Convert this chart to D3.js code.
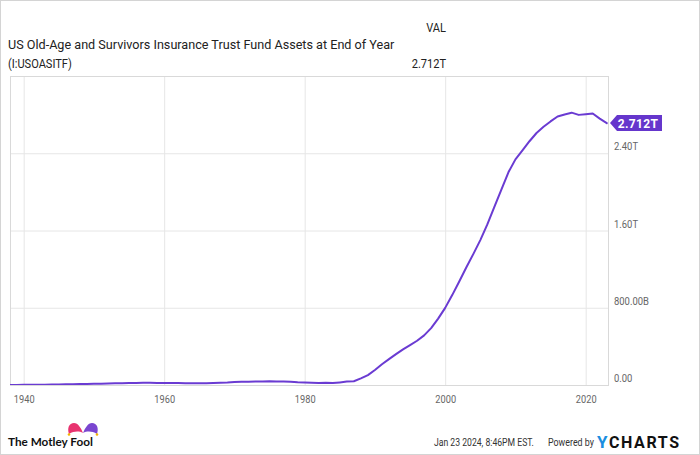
<!DOCTYPE html>
<html>
<head>
<meta charset="utf-8">
<script src="https://cdn.jsdelivr.net/npm/d3@7"></script>
<style>
  html, body { margin: 0; padding: 0; background: #fff; }
  svg { display: block; }
  text { font-family: Roboto, "Noto Sans", sans-serif; }
</style>
</head>
<body>
<svg id="chart" width="700" height="455"></svg>
<script>
// ---- Data (end-of-year assets) ----
const years = [
  1937,1938,1939,1940,1941,1942,1943,1944,1945,1946,1947,1948,1949,
  1950,1951,1952,1953,1954,1955,1956,1957,1958,1959,
  1960,1961,1962,1963,1964,1965,1966,1967,1968,1969,
  1970,1971,1972,1973,1974,1975,1976,1977,1978,1979,
  1980,1981,1982,1983,1984,1985,1986,1987,1988,1989,
  1990,1991,1992,1993,1994,1995,1996,1997,1998,1999,
  2000,2001,2002,2003,2004,2005,2006,2007,2008,2009,
  2010,2011,2012,2013,2014,2015,2016,2017,2018,2019,
  2020,2021,2022
];
// billions of dollars
const assetsBillions = [
  0.8,1.1,1.7,2.0,2.8,3.7,4.8,6.0,7.1,8.2,9.4,10.7,11.8,
  13.7,15.5,17.4,18.7,20.6,21.7,22.5,22.4,21.9,20.1,
  20.3,19.7,18.3,18.5,19.1,18.2,20.6,24.2,25.7,30.1,
  32.5,33.8,35.3,36.5,37.8,37.0,35.4,32.5,27.5,24.7,
  22.8,21.5,22.1,19.7,27.1,35.8,39.1,68.8,102.9,155.1,
  214.2,267.8,319.2,369.3,413.5,458.5,514.0,589.1,687.6,798.8,
  931.0,1071.5,1217.5,1355.3,1500.6,1663.0,1844.3,2023.7,2202.7,2336.8,
  2429.0,2524.5,2609.7,2674.1,2729.5,2780.3,2801.4,2820.3,2797.4,2804.1,
  2811.0,2758.0,2712.0
];
const yTickValues = [0, 800e9, 1600e9, 2400e9];
const yTickLabels = ["0.00", "800.00B", "1.60T", "2.40T"];
const xTickYears = [1940, 1960, 1980, 2000, 2020];
const xTickLabels = ["1940", "1960", "1980", "2000", "2020"];
const titleLine1 = "US Old-Age and Survivors Insurance Trust Fund Assets at End of Year";
const titleLine2 = "(I:USOASITF)";
const columnHeader = "VAL";
const lastValueLabel = "2.712T";
const footerDate = "Jan 23 2024, 8:46PM EST.";
const footerPowered = "Powered by";

const data = years.map((yr, i) => ({ date: new Date(yr, 11, 31), value: assetsBillions[i] * 1e9 }));

// ---- Layout ----
const svg = d3.select("#chart");
const W = 700, H = 455;
const plot = { left: 10, right: 608, top: 76, bottom: 385 };
const lineColor = "#6a3bd2";

// horizontally condense a text via transform so its box stays true
// opt: {scale: s} or {width: px}
function condense(sel, opt) {
  sel.each(function () {
    const t = d3.select(this);
    const w = this.getComputedTextLength();
    const s = opt.width ? opt.width / w : opt.scale;
    const x0 = +t.attr("x") || 0, y0 = +t.attr("y") || 0;
    t.attr("x", 0).attr("y", 0)
     .attr("transform", `translate(${x0},${y0}) scale(${s},1)`);
  });
}

// frame
svg.append("rect").attr("x", 0.5).attr("y", 0.5).attr("width", W - 1).attr("height", H - 1)
  .attr("fill", "#fff").attr("stroke", "#d4d4d4");

// scales
const x = d3.scaleTime()
  .domain([new Date(1940, 0, 1), new Date(2020, 0, 1)])
  .range([23.7, 585.7]);
const y = d3.scaleLinear().domain([0, 3.2e12]).range([plot.bottom, plot.top]);

// gridlines
const gx = svg.append("g").attr("transform", `translate(0,${plot.bottom})`)
  .call(d3.axisBottom(x).tickValues(xTickYears.map(v => new Date(v, 0, 1)))
    .tickSize(-(plot.bottom - plot.top)).tickFormat(""));
gx.select(".domain").remove();
gx.selectAll("line").attr("stroke", "#e6e6e6");

const gy = svg.append("g").attr("transform", `translate(${plot.left},0)`)
  .call(d3.axisRight(y).tickValues(yTickValues).tickSize(plot.right - plot.left).tickFormat(""));
gy.select(".domain").remove();
gy.selectAll("line").attr("stroke", "#e6e6e6");

// plot border
svg.append("rect").attr("x", plot.left + 0.5).attr("y", plot.top + 0.5)
  .attr("width", plot.right - plot.left).attr("height", plot.bottom - plot.top)
  .attr("fill", "none").attr("stroke", "#d9d9d9");

// x tick labels
const xl = svg.append("g").attr("transform", `translate(0,${plot.bottom})`)
  .call(d3.axisBottom(x).tickValues(xTickYears.map(v => new Date(v, 0, 1)))
    .tickSize(0).tickPadding(0).tickFormat((d, i) => xTickLabels[i]));
xl.select(".domain").remove();
xl.selectAll("text").attr("y", 18).attr("dy", null)
  .attr("fill", "#666").style("font-size", "11px").style("font-family", "Roboto, sans-serif");
condense(xl.selectAll("text"), { scale: 0.84 });

// y tick labels (right side, above gridline)
const yl = svg.append("g").attr("transform", `translate(${plot.right + 6},0)`)
  .call(d3.axisRight(y).tickValues(yTickValues).tickSize(0).tickPadding(0)
    .tickFormat((d, i) => yTickLabels[i]));
yl.select(".domain").remove();
yl.selectAll("text").attr("dy", null).attr("y", -3.5).attr("x", 0)
  .attr("fill", "#666").style("font-size", "11px").style("font-family", "Roboto, sans-serif")
  .attr("text-anchor", "start");
condense(yl.selectAll("text"), { scale: 0.86 });

// line
svg.append("clipPath").attr("id", "clip").append("rect")
  .attr("x", plot.left).attr("y", plot.top - 10)
  .attr("width", plot.right - plot.left).attr("height", plot.bottom - plot.top + 10);
svg.append("path").datum(data)
  .attr("clip-path", "url(#clip)")
  .attr("fill", "none").attr("stroke", lineColor).attr("stroke-width", 2)
  .attr("stroke-linejoin", "round").attr("stroke-linecap", "round")
  .attr("d", d3.line().x(d => x(d.date)).y(d => y(d.value)));

// last value tag
const last = data[data.length - 1];
const ty = y(last.value);
const tx = plot.right + 2;
svg.append("path")
  .attr("d", `M${tx},${ty} L${tx + 7},${ty - 8} L${tx + 52},${ty - 8} L${tx + 52},${ty + 8} L${tx + 7},${ty + 8} Z`)
  .attr("fill", "#6536cc");
svg.append("text").attr("x", tx + 28).attr("y", ty + 4.5).attr("text-anchor", "middle")
  .attr("fill", "#fff").style("font-size", "12px").style("font-weight", "bold")
  .style("letter-spacing", "0.3px").text(lastValueLabel);

// header
const hVal = svg.append("text").attr("x", 446).attr("y", 32).attr("text-anchor", "end")
  .attr("fill", "#222").style("font-size", "13px").text(columnHeader);
condense(hVal, { scale: 0.85 });
const t1 = svg.append("text").attr("x", 8).attr("y", 49)
  .attr("fill", "#222").style("font-size", "13px").text(titleLine1);
condense(t1, { width: 387 });
const t2 = svg.append("text").attr("x", 8).attr("y", 68)
  .attr("fill", "#222").style("font-size", "13px").text(titleLine2);
condense(t2, { scale: 0.85 });
const t3 = svg.append("text").attr("x", 446).attr("y", 68).attr("text-anchor", "end")
  .attr("fill", "#222").style("font-size", "13px").text(lastValueLabel);
condense(t3, { scale: 0.85 });

// footer: Motley Fool logo
const logo = svg.append("g");
logo.append("path")
  .attr("d", "M69,434 C67,428 69,423 74,423 C78,423 81,428 83,433 C79,431 74,431 69,434 Z")
  .attr("fill", "#e8336f");
logo.append("path")
  .attr("d", "M83,433 C85,428 88,423 92,423 C97,423 99,428 97,434 C92,431 87,431 83,433 Z")
  .attr("fill", "#7a46d0");
[[69,434.5],[97,434.5]].forEach(p => logo.append("circle")
  .attr("cx", p[0]).attr("cy", p[1]).attr("r", 1.3).attr("fill", "#f4b400"));
const mf = svg.append("text").attr("x", 8).attr("y", 446)
  .attr("fill", "#111").style("font-size", "11.5px").style("font-weight", "bold")
  .style("font-family", "Lato, 'Open Sans', sans-serif").text("The Motley Fool");
condense(mf, { width: 85 });

// footer right
const fd = svg.append("text").attr("x", 434).attr("y", 446).attr("fill", "#333")
  .style("font-size", "11px").text(footerDate);
condense(fd, { width: 100 });
const fp = svg.append("text").attr("x", 548).attr("y", 446).attr("fill", "#333")
  .style("font-size", "11px").text(footerPowered);
condense(fp, { width: 46 });
svg.append("text").attr("x", 597).attr("y", 447.5).attr("fill", "#1a8ee0")
  .style("font-size", "17px").style("font-weight", "bold").text("Y");
svg.append("text").attr("x", 609).attr("y", 447.5).attr("fill", "#111")
  .style("font-size", "16px").style("font-weight", "bold")
  .style("letter-spacing", "1.6px").text("CHARTS");
</script>
</body>
</html>
